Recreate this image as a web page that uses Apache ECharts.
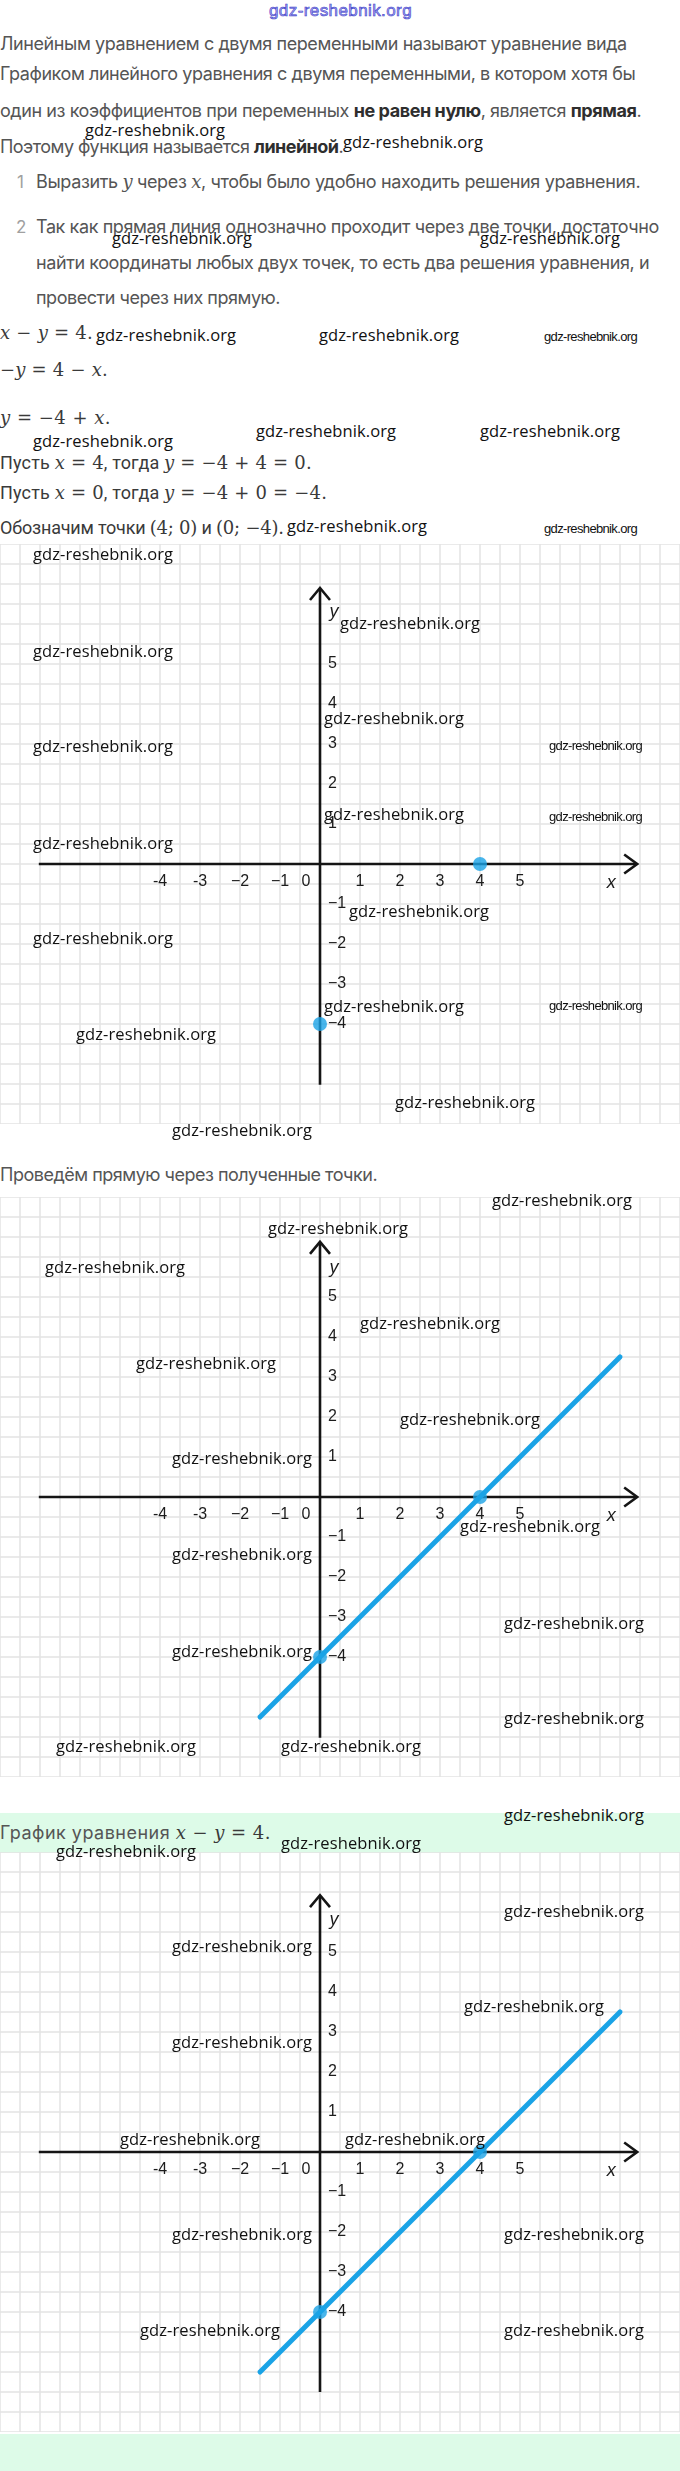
<!DOCTYPE html>
<html><head><meta charset="utf-8">
<script src="https://cdn.jsdelivr.net/npm/echarts/dist/echarts.min.js"></script>
<style>
html,body{margin:0;padding:0;background:#fff;}
#page{position:relative;width:680px;height:2471px;overflow:hidden;background:#fff;}
.t{position:absolute;left:0;white-space:nowrap;font-family:Inter,'Noto Sans',sans-serif;font-size:18px;line-height:24px;height:24px;color:#555;}
.t b{font-weight:700;color:#2e2e2e;}
.r{font-family:Roboto,'Noto Sans',sans-serif;color:#3a3a3a;}
.mv{font-family:'DejaVu Serif',serif;font-style:italic;}
.m{font-family:'DejaVu Serif',serif;color:#3a3a3a;}
.num{position:absolute;font-family:Inter,sans-serif;font-size:17px;line-height:24px;color:#a0a0a0;}
.band{position:absolute;left:0;width:680px;background:#ddfbe8;}
.chart{position:absolute;left:0;width:680px;height:580px;}
.wm{position:absolute;white-space:nowrap;font-family:'Open Sans',sans-serif;font-size:16.5px;line-height:20px;height:20px;color:#111;z-index:10;}
.wm.s{font-family:'Liberation Sans Narrow','Liberation Sans',sans-serif;font-size:13px;line-height:14px;height:14px;}
.wm.b{font-family:'Liberation Sans Narrow','Liberation Sans',sans-serif;font-size:17px;line-height:16px;height:16px;color:#a9a9f2;-webkit-text-stroke:0.6px #3c3cc8;}
</style>
</head>
<body>
<div id="page">
  <div class="band" style="top:1813px;height:40px;"></div>
  <div class="band" style="top:2434px;height:37px;"></div>

  <div class="t" style="top:32px" data-w="627">Линейным уравнением с двумя переменными называют уравнение вида</div>
  <div class="t" style="top:62px" data-w="635">Графиком линейного уравнения с двумя переменными, в котором хотя бы</div>
  <div class="t" style="top:99px" data-w="641">один из коэффициентов при переменных <b>не равен нулю</b>, является <b>прямая</b>.</div>
  <div class="t" style="top:135px" data-w="343">Поэтому функция называется <b>линейной</b>.</div>

  <div class="num" style="left:17px;top:170px">1</div>
  <div class="t" style="left:36px;top:170px" data-w="604">Выразить <span class="mv">y</span> через <span class="mv">x</span>, чтобы было удобно находить решения уравнения.</div>
  <div class="num" style="left:16px;top:215px">2</div>
  <div class="t" style="left:36px;top:215px" data-w="623">Так как прямая линия однозначно проходит через две точки, достаточно</div>
  <div class="t" style="left:36px;top:251px" data-w="613">найти координаты любых двух точек, то есть два решения уравнения, и</div>
  <div class="t" style="left:36px;top:286px" data-w="244">провести через них прямую.</div>

  <div class="t m" style="top:321px" data-w="93"><span class="mv">x</span> − <span class="mv">y</span> = 4.</div>
  <div class="t m" style="top:358px" data-w="108">−<span class="mv">y</span> = 4 − <span class="mv">x</span>.</div>
  <div class="t m" style="top:406px" data-w="111"><span class="mv">y</span> = −4 + <span class="mv">x</span>.</div>
  <div class="t r" style="top:451px" data-w="312">Пусть <span class="m"><span class="mv">x</span> = 4</span>, тогда <span class="m"><span class="mv">y</span> = −4 + 4 = 0.</span></div>
  <div class="t r" style="top:481px" data-w="327">Пусть <span class="m"><span class="mv">x</span> = 0</span>, тогда <span class="m"><span class="mv">y</span> = −4 + 0 = −4.</span></div>
  <div class="t r" style="top:516px" data-w="284">Обозначим точки <span class="m">(4; 0)</span> и <span class="m">(0; −4).</span></div>

  <div class="chart" id="c1" style="top:544px"></div>

  <div class="t" style="top:1163px" data-w="377">Проведём прямую через полученные точки.</div>

  <div class="chart" id="c2" style="top:1197px"></div>

  <div class="t" style="top:1821px" data-w="271">График уравнения <span class="m"><span class="mv">x</span> − <span class="mv">y</span> = 4.</span></div>

  <div class="chart" id="c3" style="top:1852px"></div>
</div>

<script>
// ---------- data ----------
const xTicks = [-4, -3, -2, -1, 0, 1, 2, 3, 4, 5];
const xTickLabels = ['-4', '-3', '−2', '−1', '0', '1', '2', '3', '4', '5'];
const yTicks = [5, 4, 3, 2, 1, -1, -2, -3, -4];
const yTickLabels = ['5', '4', '3', '2', '1', '−1', '−2', '−3', '−4'];
const pointX = [4, 0];
const pointY = [0, -4];
const lineX = [-1.5, 7.5];
const lineY = [-5.5, 3.5];
const axisNames = ['x', 'y'];
const WM = 'gdz-reshebnik.org';

// ---------- layout (watermarks: left, centerY, kind) ----------
const watermarkLayout = [
  [269, 11, 'b'],
  [85, 132, 'L'], [343, 144, 'L'], [112, 240, 'L'], [480, 240, 'L'],
  [96, 337, 'L'], [319, 337, 'L'], [544, 338, 'S'],
  [33, 443, 'L'], [256, 433, 'L'], [480, 433, 'L'],
  [287, 528, 'L'], [544, 530, 'S'],
  [33, 556, 'L'], [340, 625, 'L'], [33, 653, 'L'], [324, 720, 'L'],
  [33, 748, 'L'], [549, 747, 'S'], [324, 816, 'L'], [549, 818, 'S'],
  [33, 845, 'L'], [349, 913, 'L'], [33, 940, 'L'], [324, 1008, 'L'],
  [549, 1007, 'S'], [76, 1036, 'L'], [395, 1104, 'L'], [172, 1132, 'L'],
  [492, 1202, 'L'], [268, 1230, 'L'], [45, 1269, 'L'], [360, 1325, 'L'],
  [136, 1365, 'L'], [400, 1421, 'L'], [172, 1460, 'L'], [460, 1528, 'L'],
  [172, 1556, 'L'], [504, 1625, 'L'], [172, 1653, 'L'], [504, 1720, 'L'],
  [56, 1748, 'L'], [281, 1748, 'L'],
  [504, 1817, 'L'], [281, 1845, 'L'], [56, 1853, 'L'], [504, 1913, 'L'],
  [172, 1948, 'L'], [464, 2008, 'L'], [172, 2044, 'L'],
  [120, 2141, 'L'], [345, 2141, 'L'], [172, 2236, 'L'], [504, 2236, 'L'],
  [140, 2332, 'L'], [504, 2332, 'L']
];

const page = document.getElementById('page');
watermarkLayout.forEach(([x, cy, k]) => {
  const d = document.createElement('div');
  d.className = 'wm' + (k === 'S' ? ' s' : k === 'b' ? ' b' : '');
  d.textContent = WM;
  const off = k === 'S' ? 8 : k === 'b' ? 8 : 12;
  d.style.left = x + 'px';
  d.style.top = (cy - off) + 'px';
  d.dataset.w = k === 'S' ? 93 : k === 'b' ? 143 : 140;
  page.appendChild(d);
});

function fitAll() {
  document.querySelectorAll('[data-w]').forEach(el => {
    el.style.letterSpacing = '0px';
    const w = el.getBoundingClientRect().width;
    const n = el.textContent.length;
    let ls = (+el.dataset.w - w) / n;
    ls = Math.max(-2, Math.min(3, ls));
    el.style.letterSpacing = ls.toFixed(2) + 'px';
  });
}
fitAll();
if (document.fonts && document.fonts.ready) document.fonts.ready.then(fitAll);

// ---------- charts ----------
const BLUE = '#1aa3e6';
const AXIS_COLOR = '#151515';

function buildChart(id, cfg) {
  const chart = echarts.init(document.getElementById(id), null, { renderer: 'canvas' });
  const series = [];

  series.push({
    type: 'custom', silent: true, z: 3, data: [[0, 0]],
    renderItem: (params, api) => {
      const xs = api.coord([cfg.xAxisFrom, 0]), xe = api.coord([cfg.xAxisTo, 0]);
      const ys = api.coord([0, cfg.yAxisFrom]), ye = api.coord([0, cfg.yAxisTo]);
      const st = { stroke: AXIS_COLOR, lineWidth: 2.6, fill: null, lineJoin: 'miter' };
      return {
        type: 'group', children: [
          { type: 'line', shape: { x1: xs[0], y1: xs[1], x2: xe[0] - 1, y2: xe[1] }, style: st },
          { type: 'polyline', shape: { points: [[xe[0] - 13, xe[1] - 9.5], [xe[0], xe[1]], [xe[0] - 13, xe[1] + 9.5]] }, style: st },
          { type: 'line', shape: { x1: ys[0], y1: ys[1], x2: ye[0], y2: ye[1] + 1 }, style: st },
          { type: 'polyline', shape: { points: [[ye[0] - 10, ye[1] + 12], [ye[0], ye[1]], [ye[0] + 10, ye[1] + 12]] }, style: st }
        ]
      };
    }
  });

  const lblFont = '16px "Liberation Sans", Arial, sans-serif';
  series.push({
    type: 'custom', silent: true, z: 4,
    data: xTicks.map((v, i) => [v, 0, i]),
    renderItem: (params, api) => {
      const v = api.value(0), i = api.value(2);
      const c = api.coord([v, 0]);
      return { type: 'text', x: c[0] + (v === 0 ? -14 : 0), y: c[1] + 18,
        style: { text: xTickLabels[i], font: lblFont, fill: '#1c1c1c', align: 'center', verticalAlign: 'middle', textAlign: 'center', textVerticalAlign: 'middle' } };
    }
  });
  series.push({
    type: 'custom', silent: true, z: 4,
    data: yTicks.map((v, i) => [0, v, i]),
    renderItem: (params, api) => {
      const v = api.value(1), i = api.value(2);
      const c = api.coord([0, v]);
      return { type: 'text', x: c[0] + 8, y: c[1],
        style: { text: yTickLabels[i], font: lblFont, fill: '#1c1c1c', align: 'left', verticalAlign: 'middle', textAlign: 'left', textVerticalAlign: 'middle' } };
    }
  });
  series.push({
    type: 'custom', silent: true, z: 4,
    data: [[cfg.xNameAt, 0, 0], [0, cfg.yNameAt, 1]],
    renderItem: (params, api) => {
      const i = api.value(2);
      const c = api.coord([api.value(0), api.value(1)]);
      return { type: 'text', x: c[0] + (i === 1 ? 14 : 0), y: c[1] + (i === 0 ? 19 : 0),
        style: { text: axisNames[i], font: 'italic 18px "Liberation Sans", Arial, sans-serif', fill: '#1c1c1c', align: 'center', verticalAlign: 'middle', textAlign: 'center', textVerticalAlign: 'middle' } };
    }
  });

  if (cfg.showLine) {
    series.push({
      type: 'line', silent: true, z: 5, showSymbol: false, symbol: 'none',
      data: lineX.map((x, i) => [x, lineY[i]]),
      lineStyle: { color: BLUE, width: 5, cap: 'round' }
    });
  }
  series.push({
    type: 'scatter', silent: true, z: 6, symbolSize: 14,
    data: pointX.map((x, i) => [x, pointY[i]]),
    itemStyle: { color: BLUE }
  });

  const splitStyle = { show: true, lineStyle: { color: '#e3e3e3', width: 1.5 } };
  chart.setOption({
    animation: false,
    grid: { left: 0, right: 0, top: 0, bottom: 0 },
    xAxis: { type: 'value', min: -8, max: 9, interval: 0.5,
      axisLine: { show: false }, axisTick: { show: false }, axisLabel: { show: false }, splitLine: splitStyle },
    yAxis: { type: 'value', min: cfg.yMin, max: cfg.yMax, interval: 0.5,
      axisLine: { show: false }, axisTick: { show: false }, axisLabel: { show: false }, splitLine: splitStyle },
    series: series
  });
}

buildChart('c1', { yMin: -6.5, yMax: 8, xAxisFrom: -7.03, xAxisTo: 7.93, yAxisFrom: -5.52, yAxisTo: 6.9, xNameAt: 7.28, yNameAt: 6.3, showLine: false });
buildChart('c2', { yMin: -7, yMax: 7.5, xAxisFrom: -7.03, xAxisTo: 7.93, yAxisFrom: -6.02, yAxisTo: 6.38, xNameAt: 7.28, yNameAt: 5.73, showLine: true });
buildChart('c3', { yMin: -7, yMax: 7.5, xAxisFrom: -7.03, xAxisTo: 7.93, yAxisFrom: -6.0, yAxisTo: 6.42, xNameAt: 7.28, yNameAt: 5.8, showLine: true });
</script>
</body></html>
